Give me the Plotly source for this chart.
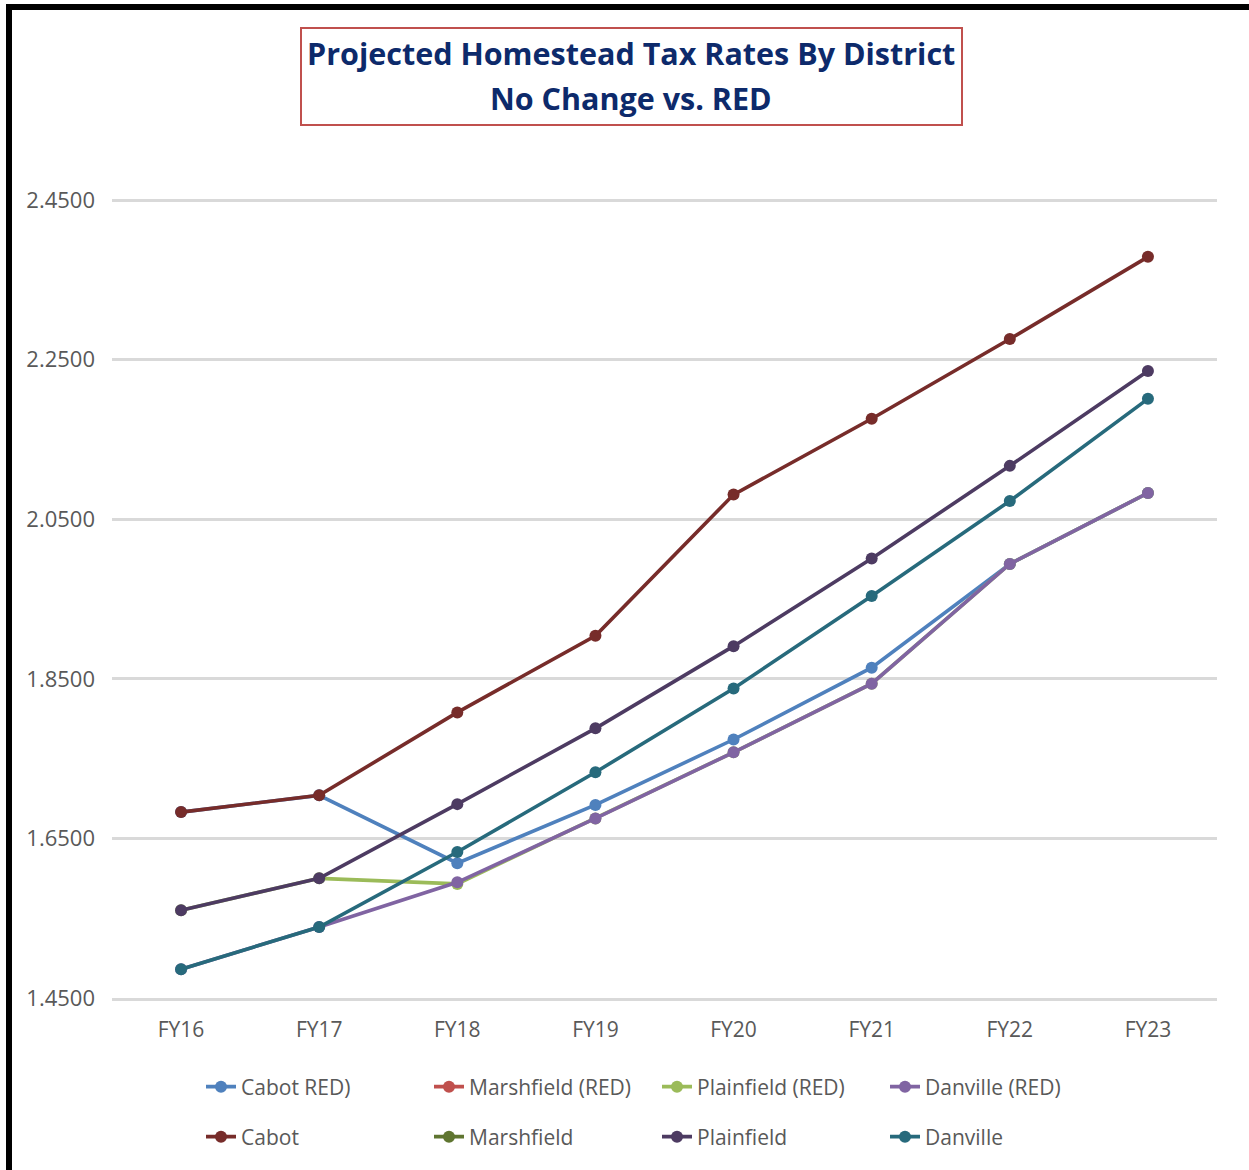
import plotly.graph_objects as go

# Fiscal years on the category axis
years = ["FY16", "FY17", "FY18", "FY19", "FY20", "FY21", "FY22", "FY23"]

# Projected homestead tax rates, RED scenario
cabot_red = [1.683, 1.704, 1.619, 1.692, 1.774, 1.864, 1.994, 2.083]
marshfield_red = [None] * 8
plainfield_red = [1.560, 1.600, 1.593, 1.675, 1.758, 1.844, 1.994, 2.083]
danville_red = [1.486, 1.539, 1.595, 1.675, 1.758, 1.844, 1.994, 2.083]

# Projected homestead tax rates, no change
cabot = [1.683, 1.704, 1.808, 1.904, 2.081, 2.176, 2.276, 2.379]
marshfield = [None] * 8
plainfield = [1.560, 1.600, 1.693, 1.788, 1.891, 2.001, 2.117, 2.236]
danville = [1.486, 1.539, 1.633, 1.733, 1.838, 1.954, 2.073, 2.201]

y_ticks = [1.45, 1.65, 1.85, 2.05, 2.25, 2.45]

series = [
    ("Cabot RED)", cabot_red, "#4F81BD", "legend"),
    ("Marshfield (RED)", marshfield_red, "#C0504D", "legend"),
    ("Plainfield (RED)", plainfield_red, "#9BBB59", "legend"),
    ("Danville (RED)", danville_red, "#8064A2", "legend"),
    ("Cabot", cabot, "#772C2A", "legend2"),
    ("Marshfield", marshfield, "#5F7530", "legend2"),
    ("Plainfield", plainfield, "#4D3B62", "legend2"),
    ("Danville", danville, "#276A7C", "legend2"),
]

FONT = "Open Sans, Noto Sans, sans-serif"
W, H = 1249, 1170
ML, MR, MT, MB = 112, 32, 199, 172
PW, PH = W - ML - MR, H - MT - MB


def px_x(px):
    return (px - ML) / PW


def px_y(py):
    return (H - MB - py) / PH


fig = go.Figure()
for name, vals, color, leg in series:
    fig.add_trace(go.Scatter(
        x=years, y=vals, name=name, mode="lines+markers",
        line=dict(color=color, width=3.6),
        marker=dict(color=color, size=12),
        legend=leg, cliponaxis=False,
    ))

legend_common = dict(
    orientation="h", xanchor="left", yanchor="middle",
    font=dict(family=FONT, size=21, color="#595959"),
    entrywidth=183, entrywidthmode="pixels",
    bgcolor="rgba(0,0,0,0)", borderwidth=0,
    itemclick=False, itemdoubleclick=False,
)

fig.update_layout(
    width=W, height=H,
    margin=dict(l=ML, r=MR, t=MT, b=MB, pad=0),
    paper_bgcolor="white", plot_bgcolor="white",
    showlegend=True,
    legend=dict(x=px_x(201), y=px_y(1087), **legend_common),
    legend2=dict(x=px_x(201), y=px_y(1137), **legend_common),
    xaxis=dict(
        type="category", range=[-0.5, 7.5],
        showgrid=False, zeroline=False,
        showline=True, linecolor="#D9D9D9", linewidth=2.5,
        ticks="", ticklabelstandoff=11,
        tickfont=dict(family=FONT, size=21, color="#595959"),
    ),
    yaxis=dict(
        range=[1.45, 2.4515], tickvals=y_ticks, tickformat=".4f",
        showgrid=True, gridcolor="#D9D9D9", gridwidth=2.5,
        zeroline=False, showline=False, ticks="",
        ticklabelstandoff=16,
        tickfont=dict(family=FONT, size=22, color="#595959"),
    ),
    shapes=[
        # chart frame, top and left edges
        dict(type="rect", xref="paper", yref="paper",
             x0=px_x(6), x1=px_x(W + 5), y0=px_y(10), y1=px_y(4),
             fillcolor="black", line=dict(width=0), layer="above"),
        dict(type="rect", xref="paper", yref="paper",
             x0=px_x(6), x1=px_x(12), y0=px_y(H + 5), y1=px_y(4),
             fillcolor="black", line=dict(width=0), layer="above"),
        # title box
        dict(type="rect", xref="paper", yref="paper",
             x0=px_x(301), x1=px_x(962), y0=px_y(125), y1=px_y(28),
             line=dict(color="#C0504D", width=2), fillcolor="white"),
    ],
    annotations=[
        dict(text="<b>Projected Homestead Tax Rates By District</b>",
             xref="paper", yref="paper", x=px_x(631), y=px_y(53),
             xanchor="center", yanchor="middle", showarrow=False,
             font=dict(family=FONT, size=30.5, color="#0D2A6B")),
        dict(text="<b>No Change vs. RED</b>",
             xref="paper", yref="paper", x=px_x(631), y=px_y(98),
             xanchor="center", yanchor="middle", showarrow=False,
             font=dict(family=FONT, size=30.5, color="#0D2A6B")),
    ],
)

fig.write_html("out.html")
